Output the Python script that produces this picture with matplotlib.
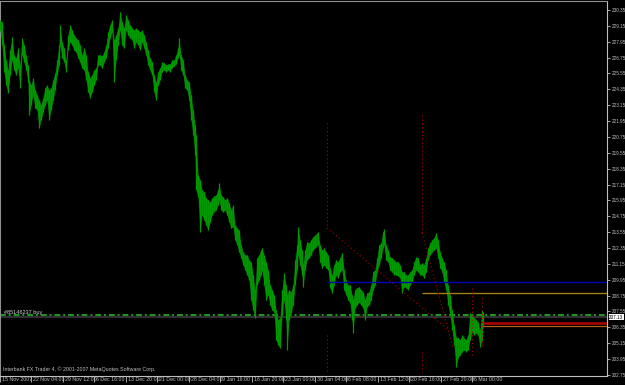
import matplotlib
matplotlib.use("Agg")
import matplotlib.pyplot as plt
import matplotlib.transforms as mtransforms

plt.rcParams["font.family"] = ["Liberation Sans Narrow", "Liberation Sans", "DejaVu Sans"]

# H4 bars (bar index, high, low)
bar_x = [0, 2, 4, 6, 8, 10, 12, 14, 16, 18, 20, 22, 24, 26, 28, 29, 31, 33, 35, 37,
         39, 41, 43, 45, 47, 49, 51, 53, 55, 57, 59, 60, 62, 64, 66, 68, 70, 72, 74, 76,
         78, 80, 82, 84, 86, 88, 90, 92, 94, 96, 98, 100, 102, 104, 106, 108, 110, 112, 114, 116,
         118, 120, 122, 124, 126, 128, 130, 132, 134, 136, 138, 140, 142, 144, 146, 148, 150, 152, 154, 156,
         158, 160, 162, 164, 166, 168, 170, 172, 174, 176, 178, 179, 181, 183, 185, 187, 189, 191, 193, 195,
         196, 198, 200, 202, 204, 206, 208, 210, 212, 214, 216, 218, 219, 221, 223, 225, 227, 229, 231, 233,
         235, 237, 239, 241, 243, 245, 247, 249, 251, 253, 255, 257, 259, 261, 262, 264, 266, 268, 270, 272,
         274, 276, 278, 280, 282, 284, 286, 287, 289, 291, 293, 295, 297, 298, 300, 302, 303, 305, 307, 309,
         311, 313, 315, 318, 320, 322, 324, 326, 328, 330, 332, 334, 336, 338, 340, 342, 344, 346, 348, 350,
         352, 353, 355, 357, 359, 361, 363, 365, 367, 369, 371, 373, 375, 377, 379, 381, 383, 384, 386, 388,
         390, 392, 394, 396, 398, 400, 402, 404, 406, 408, 410, 412, 414, 416, 418, 420, 422, 424, 426, 428,
         430, 432, 434, 436, 438, 440, 442, 444, 446, 448, 450, 452, 454, 456, 458, 460, 462, 464, 466, 468,
         470, 472, 474, 476, 478, 480, 482, 483]
bar_high = [229.60, 229.45, 227.71, 226.57, 225.82, 227.33, 228.31, 226.95, 226.73, 227.48,
            226.20, 228.24, 227.71, 226.95, 226.20, 225.06, 224.68, 225.21, 224.31, 223.93,
            223.55, 223.17, 223.70, 224.46, 224.68, 224.31, 224.46, 225.06, 225.59, 226.57,
            227.71, 229.22, 227.93, 227.48, 226.57, 228.46, 229.22, 228.84, 228.46, 228.24,
            228.09, 227.71, 226.95, 227.48, 226.95, 225.67, 225.21, 225.44, 225.82, 225.97,
            226.95, 226.95, 226.88, 227.18, 227.71, 228.69, 229.22, 229.60, 228.09, 228.46,
            228.99, 230.20, 229.45, 228.99, 229.98, 229.60, 229.22, 228.99, 228.84, 228.99,
            228.84, 228.69, 228.84, 228.46, 227.93, 227.33, 226.73, 226.42, 225.44, 224.91,
            225.67, 225.97, 226.42, 226.35, 226.20, 226.27, 226.27, 226.57, 226.57, 226.95,
            227.48, 228.24, 226.95, 226.57, 225.44, 225.06, 224.91, 223.93, 222.79, 221.66,
            220.90, 217.88, 217.50, 216.75, 216.59, 216.14, 215.99, 215.84, 216.14, 216.29,
            216.37, 216.75, 217.28, 216.37, 216.22, 215.99, 216.14, 215.76, 215.23, 215.61,
            214.10, 213.87, 213.72, 212.59, 212.06, 211.83, 211.83, 211.45, 211.30, 210.32,
            209.19, 211.61, 211.83, 212.21, 212.36, 211.83, 211.30, 210.70, 209.56, 209.19,
            208.81, 207.67, 206.92, 207.07, 209.19, 210.47, 209.56, 208.81, 209.19, 209.03,
            209.56, 211.45, 212.59, 213.95, 212.97, 212.21, 211.08, 212.21, 212.81, 212.74,
            212.97, 213.19, 213.34, 213.57, 212.59, 212.21, 212.36, 212.06, 211.83, 210.85,
            210.32, 211.08, 211.45, 211.30, 211.61, 211.98, 210.70, 209.94, 209.56, 209.56,
            208.81, 208.43, 209.19, 209.34, 209.41, 209.19, 209.03, 208.43, 208.96, 209.03,
            209.56, 210.55, 210.70, 211.61, 212.59, 212.74, 213.57, 213.80, 212.59, 212.21,
            211.68, 211.61, 211.45, 211.30, 211.30, 211.08, 210.55, 210.55, 210.32, 210.32,
            210.55, 210.70, 211.30, 211.68, 211.61, 211.08, 211.23, 211.08, 211.61, 212.36,
            212.74, 212.97, 213.12, 213.50, 212.97, 212.06, 211.61, 211.30, 210.70, 209.56,
            208.81, 207.67, 206.54, 205.63, 205.56, 205.41, 205.78, 205.56, 205.41, 205.78,
            207.45, 207.30, 207.07, 206.92, 206.77, 206.16, 207.67, 207.52]
bar_low = [228.84, 227.71, 225.67, 224.68, 224.08, 225.44, 226.57, 225.82, 225.44, 225.97,
           224.46, 226.95, 226.42, 225.82, 224.91, 222.42, 223.17, 223.93, 222.95, 222.79,
           221.43, 222.04, 222.64, 223.17, 223.55, 222.04, 222.79, 223.55, 224.31, 225.44,
           226.20, 227.71, 226.73, 226.42, 225.67, 227.33, 227.93, 227.71, 227.33, 227.18,
           226.73, 226.42, 225.97, 225.82, 225.06, 224.15, 223.70, 224.15, 224.68, 225.06,
           226.20, 226.20, 225.97, 226.42, 226.73, 227.48, 228.24, 228.69, 224.91, 226.57,
           227.71, 228.84, 227.71, 227.48, 228.84, 228.46, 228.24, 228.09, 227.48, 227.93,
           227.71, 227.33, 227.93, 227.48, 226.95, 226.20, 225.82, 225.44, 224.15, 223.55,
           224.68, 225.06, 225.67, 225.82, 225.67, 225.82, 225.67, 225.97, 226.12, 226.27,
           226.73, 226.95, 225.82, 225.44, 224.46, 224.31, 223.55, 222.04, 220.90, 219.39,
           216.75, 216.22, 213.57, 214.86, 214.48, 214.10, 213.72, 214.33, 214.86, 215.08,
           215.23, 215.61, 215.99, 215.23, 215.08, 215.23, 214.86, 214.33, 213.87, 213.95,
           212.97, 212.59, 212.06, 211.61, 211.08, 210.70, 210.32, 209.94, 208.43, 207.67,
           207.07, 209.56, 209.94, 210.32, 210.70, 209.56, 208.43, 208.81, 208.05, 207.67,
           207.52, 205.41, 205.03, 204.80, 207.30, 208.43, 206.92, 204.65, 206.92, 207.45,
           208.05, 209.56, 210.70, 211.83, 211.08, 210.32, 209.41, 210.70, 211.45, 211.61,
           211.83, 212.21, 212.36, 212.59, 211.30, 210.85, 211.08, 210.85, 210.70, 209.34,
           208.96, 209.56, 210.32, 210.09, 210.55, 210.70, 209.19, 208.81, 208.43, 208.20,
           206.92, 205.94, 207.83, 208.05, 208.28, 208.05, 207.83, 206.92, 207.90, 208.05,
           208.43, 209.19, 209.56, 210.55, 211.08, 211.61, 212.36, 212.59, 211.45, 211.30,
           210.70, 210.55, 210.32, 210.32, 210.24, 210.09, 208.96, 209.41, 209.34, 209.19,
           209.56, 209.79, 210.32, 210.70, 210.55, 210.32, 210.32, 210.09, 210.55, 211.45,
           211.83, 212.06, 212.21, 212.36, 211.61, 210.85, 210.55, 209.79, 209.19, 208.05,
           207.30, 206.16, 205.03, 203.36, 204.05, 204.27, 204.50, 204.65, 204.50, 204.65,
           205.41, 206.01, 205.78, 205.94, 205.78, 204.88, 205.41, 206.54]

price_ticks = [230.35, 229.15, 227.95, 226.75, 225.55, 224.35, 223.15, 221.95, 220.75, 219.55,
               218.35, 217.15, 215.95, 214.75, 213.55, 212.35, 211.15, 209.95, 208.75, 207.55,
               206.35, 205.15, 203.95, 202.75]
time_ticks = [0, 31, 63, 94, 126, 157, 189, 220, 252, 283, 315, 346, 378, 409, 441, 472]
time_labels = ["15 Nov 2007", "22 Nov 04:00", "29 Nov 12:00", "6 Dec 16:00", "13 Dec 20:00",
               "21 Dec 00:00", "28 Dec 04:00", "9 Jan 16:00", "16 Jan 20:00", "23 Jan 00:00",
               "30 Jan 04:00", "6 Feb 08:00", "13 Feb 12:00", "20 Feb 16:00", "27 Feb 20:00",
               "6 Mar 00:00"]

bid_price = 207.13
order_price = 207.25
order_label = "#85146237 buy"
blue_level = (327, 209.78)
olive_level = (422, 208.93)
red_level = (483, 206.71)
orange_level = (482, 206.43)
# dotted red objects: (x0, y0, x1, y1)
dotted_segments = [(327, 221.81, 327, 213.87), (327, 205.78, 327, 203.00),
                   (327, 213.87, 447, 206.24),
                   (422, 222.42, 422, 213.50), (422, 204.50, 422, 203.00),
                   (422, 213.50, 453, 204.80),
                   (472, 209.34, 472, 204.05), (482, 208.58, 482, 204.88)]

W, H = 625, 385
fig = plt.figure(figsize=(W / 100, H / 100), dpi=100, facecolor="black")
ax = fig.add_axes([0, 9 / H, 607 / W, 375 / H], facecolor="black")

green = "#008800"
ax.fill_between(bar_x, bar_low, bar_high, color=green, lw=0, zorder=3)
ax.vlines(bar_x, bar_low, bar_high, color="#009a00", lw=0.9, zorder=3)

# horizontal levels
ax.axhline(bid_price, color="#3a3a3a", lw=1.2, zorder=2)
ax.axhline(order_price, color="#1f9a1f", lw=1.4, dashes=(3, 1.5, 1, 1.5), zorder=2)
ax.text(4, order_price, order_label, color="#d0d0d0", fontsize=4, va="bottom", zorder=5)
ax.hlines(blue_level[1], blue_level[0], 607, color="#0000b0", lw=1, zorder=4)
ax.hlines(olive_level[1], olive_level[0], 607, color="#a08018", lw=1, zorder=4)
ax.hlines(red_level[1], red_level[0], 607, color="#b00000", lw=1.8, zorder=4)
ax.hlines(orange_level[1], orange_level[0], 607, color="#b06010", lw=0.9, zorder=4)

for x0, y0, x1, y1 in dotted_segments:
    ax.plot([x0, x1], [y0, y1], color="#b00000", lw=0.8, ls=(0, (1, 2.5)), zorder=4)

ax.set_xlim(0, 607)
ax.set_ylim(202.67, 231.03)

for side in ["left", "top"]:
    ax.spines[side].set_color("#909090")
    ax.spines[side].set_linewidth(0.8)
for side in ["right", "bottom"]:
    ax.spines[side].set_color("#c0c0c0")
    ax.spines[side].set_linewidth(0.8)

ax.yaxis.tick_right()
ax.set_yticks(price_ticks)
ax.set_yticklabels(["%.2f" % p for p in price_ticks])
ax.tick_params(axis="y", colors="#c0c0c0", labelsize=3.3, length=2.5, width=0.6, pad=0.8)

ax.set_xticks(time_ticks)
ax.set_xticklabels(time_labels)
ax.tick_params(axis="x", colors="#c0c0c0", labelsize=3.8, length=4, width=0.6, pad=-3)
shift = mtransforms.ScaledTranslation(2 / 100, 0, fig.dpi_scale_trans)
for lab in ax.get_xticklabels():
    lab.set_ha("left")
    lab.set_transform(lab.get_transform() + shift)

# current bid box on the price scale
ax.annotate("%.2f" % bid_price, xy=(1.0, bid_price), xycoords=("axes fraction", "data"),
            xytext=(1.6, 0), textcoords="offset points", fontsize=3.3, color="black",
            va="center", ha="left",
            bbox=dict(boxstyle="square,pad=0.15", fc="white", ec="none"), annotation_clip=False)

fig.text(3 / W, 1 - 369 / H, "Interbank FX Trader 4, \u00a9 2001-2007 MetaQuotes Software Corp.",
         color="#c0c0c0", fontsize=3.8, va="center", ha="left")

fig.savefig("out.png", dpi=100, facecolor="black")
